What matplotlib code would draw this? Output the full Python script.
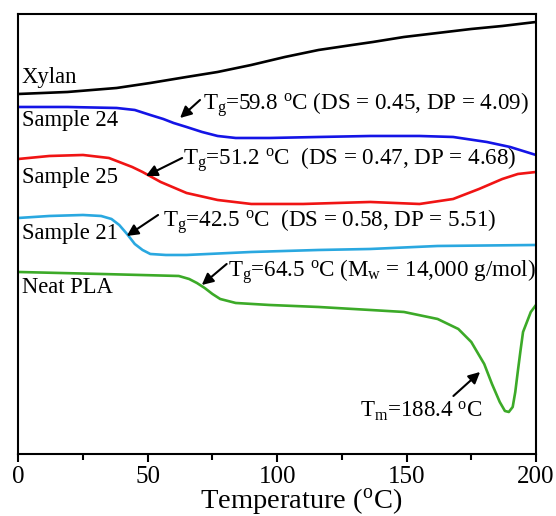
import matplotlib
matplotlib.use("Agg")
import matplotlib.pyplot as plt
from matplotlib.ticker import MultipleLocator

plt.rcParams["font.family"] = ["Liberation Serif", "DejaVu Serif"]
plt.rcParams["mathtext.fontset"] = "custom"
plt.rcParams["mathtext.rm"] = "Liberation Serif"
plt.rcParams["mathtext.it"] = "Liberation Serif:italic"

# DSC traces, heat flow in arbitrary units
xylan_t = [0, 19, 38, 51, 65, 77, 90, 103, 116, 129, 137, 149, 162, 175, 187, 200]
xylan_y = [360, 362, 366, 371, 377, 382, 389, 397, 404, 409, 412, 417, 421, 425, 428, 432]

s24_t = [0, 19, 38, 45, 51, 56, 60, 65, 71, 77, 84, 97, 116, 136, 155, 168, 181, 190, 200]
s24_y = [347, 347, 346, 344, 339, 335, 331, 327, 322, 318, 316, 316, 317, 318, 318, 317, 312, 307, 299]

s25_t = [0, 12, 25, 35, 44, 48, 55, 65, 77, 90, 110, 136, 155, 168, 178, 187, 193, 200]
s25_y = [295, 298, 299, 296, 287, 282, 272, 261, 254, 250, 250, 252, 250, 255, 265, 275, 280, 282]

s21_t = [0, 12, 25, 32, 36, 39, 42, 45, 48, 51, 57, 65, 90, 116, 136, 162, 200]
s21_y = [236, 238, 239, 238, 235, 229, 220, 210, 204, 200, 199, 199, 202, 204, 205, 208, 209]

pla_t = [0, 32, 62, 66, 69, 72, 75, 78, 84, 97, 116, 136, 149, 162, 170, 175, 180, 183, 186,
         188, 189.5, 191, 192, 193, 194, 195, 198, 200]
pla_y = [182, 180, 178, 175, 171, 166, 160, 155, 151, 149, 147, 144, 142, 135, 125, 112, 90, 70, 52,
         43, 42, 47, 62, 83, 103, 122, 142, 149]

series = [
    (xylan_t, xylan_y, "black", "Xylan", 371),
    (s24_t, s24_y, "#1414E6", "Sample 24", 328),
    (s25_t, s25_y, "#F01414", "Sample 25", 271),
    (s21_t, s21_y, "#2AA8E0", "Sample 21", 215),
    (pla_t, pla_y, "#3CAA28", "Neat PLA", 161),
]

# (text, text x, text baseline y, arrow tail, arrow head)
notes = [
    (r"T$_\mathrm{g}$=59.8 $^\mathrm{o}$C (DS = 0.45, DP = 4.09)", 71.4, 344, (70.2, 354), (62.5, 336)),
    (r"T$_\mathrm{g}$=51.2 $^\mathrm{o}$C  (DS = 0.47, DP = 4.68)", 63.6, 289, (63.3, 296), (49.3, 278)),
    (r"T$_\mathrm{g}$=42.5 $^\mathrm{o}$C  (DS = 0.58, DP = 5.51)", 55.9, 227, (54.0, 239), (41.9, 218)),
    (r"T$_\mathrm{g}$=64.5 $^\mathrm{o}$C (M$_\mathrm{w}$ = 14,000 g/mol)", 81.0, 177, (80.5, 190), (70.9, 169)),
    (r"T$_\mathrm{m}$=188.4 $^\mathrm{o}$C", 132.0, 37, (168.1, 58), (178.4, 82)),
]

fig = plt.figure(figsize=(5.56, 5.16), dpi=100)
ax = fig.add_axes([0.0329, 0.1202, 0.9311, 0.8527])

for t, y, color, label, label_y in series:
    ax.plot(t, y, color=color, lw=1.9)
    ax.text(1.3, label_y, label, fontsize=16.3, va="baseline", ha="left")

for text, tx, ty, tail, head in notes:
    ax.text(tx, ty, text, fontsize=16.6, va="baseline", ha="left")
    ax.annotate("", xy=head, xytext=tail,
                arrowprops=dict(arrowstyle="-|>", color="black", lw=1.5, mutation_scale=17,
                                shrinkA=0, shrinkB=0))

ax.set_xlim(0, 200)
ax.set_ylim(0, 440)
ax.set_yticks([])
ax.xaxis.set_major_locator(MultipleLocator(50))
ax.xaxis.set_minor_locator(MultipleLocator(25))
ax.tick_params(axis="x", which="major", direction="out", length=6, width=1.5, labelsize=18, pad=3)
ax.tick_params(axis="x", which="minor", direction="out", length=4, width=1.5)
for s in ax.spines.values():
    s.set_linewidth(1.5)
ax.set_xlabel(r"Temperature ($^\mathrm{o}$C)", fontsize=20.5, va="baseline")
ax.xaxis.set_label_coords(0.546, -0.1235)

fig.savefig("out.png", dpi=100)
